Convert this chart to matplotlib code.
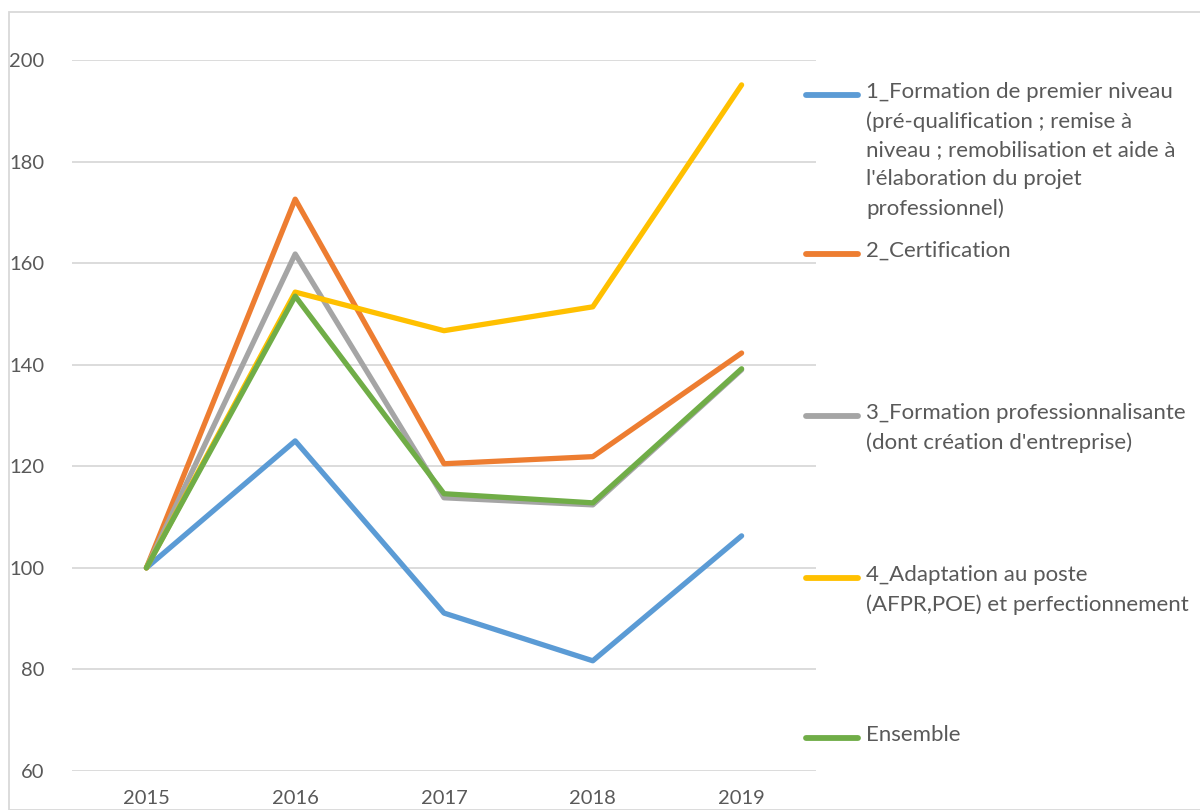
import matplotlib
matplotlib.use("Agg")
import matplotlib.pyplot as plt
from matplotlib.lines import Line2D
from matplotlib.patches import Rectangle

plt.rcParams['font.family'] = ['Lato', 'DejaVu Sans']

years = ['2015', '2016', '2017', '2018', '2019']
formation_1 = [100, 125.0, 91.1, 81.7, 106.3]
certification_2 = [100, 172.6, 120.5, 121.9, 142.3]
professionnalisante_3 = [100, 161.8, 113.8, 112.4, 139.0]
adaptation_4 = [100, 154.3, 146.7, 151.4, 195.1]
ensemble = [100, 153.5, 114.6, 112.8, 139.2]

labels = [
    "1_Formation de premier niveau\n(pré-qualification ; remise à\nniveau ; remobilisation et aide à\nl'élaboration du projet\nprofessionnel)",
    "2_Certification",
    "3_Formation professionnalisante\n(dont création d'entreprise)",
    "4_Adaptation au poste\n(AFPR,POE) et perfectionnement",
    "Ensemble",
]
series = [formation_1, certification_2, professionnalisante_3, adaptation_4, ensemble]
colors = ['#5B9BD5', '#ED7D31', '#A5A5A5', '#FFC000', '#70AD47']

text_col = '#595959'
W, H = 1200, 810
fig = plt.figure(figsize=(12, 8.1), dpi=100)
ax = fig.add_axes([72 / W, 1 - 771 / H, (816 - 72) / W, (771 - 60) / H])

x = range(len(years))
for vals, c in zip(series, colors):
    ax.plot(x, vals, color=c, lw=3.8, solid_capstyle='round', clip_on=False)

ax.set_xlim(-0.5, 4.5)
ax.set_ylim(60, 200)
ax.set_yticks(range(60, 201, 20))
ax.set_xticks(list(x))
ax.set_xticklabels(years)
ax.grid(axis='y', color='#D9D9D9', lw=1.3)
ax.set_axisbelow(True)
for s in ax.spines.values():
    s.set_visible(False)
ax.tick_params(length=0, labelsize=14.5, labelcolor=text_col)
ax.tick_params(axis='y', pad=20)
ax.tick_params(axis='x', pad=14)

# legend, placed by hand like the Excel one
entry_tops = [95, 254, 416, 578, 738]
for lab, c, yt in zip(labels, colors, entry_tops):
    fy = 1 - yt / H
    fig.add_artist(Line2D([806 / W, 858 / W], [fy, fy], color=c, lw=4.2,
                          solid_capstyle='round', transform=fig.transFigure))
    # first line of text centred on the handle
    fig.text(866 / W, fy + 13 / H, lab, fontsize=16, color=text_col, va='top',
             linespacing=1.55, transform=fig.transFigure)

fig.add_artist(Rectangle((9 / W, 0), 1.2, 1 - 12 / H, transform=fig.transFigure,
                         fill=False, edgecolor='#D9D9D9', lw=1.3))

fig.savefig('out.png', dpi=100)
